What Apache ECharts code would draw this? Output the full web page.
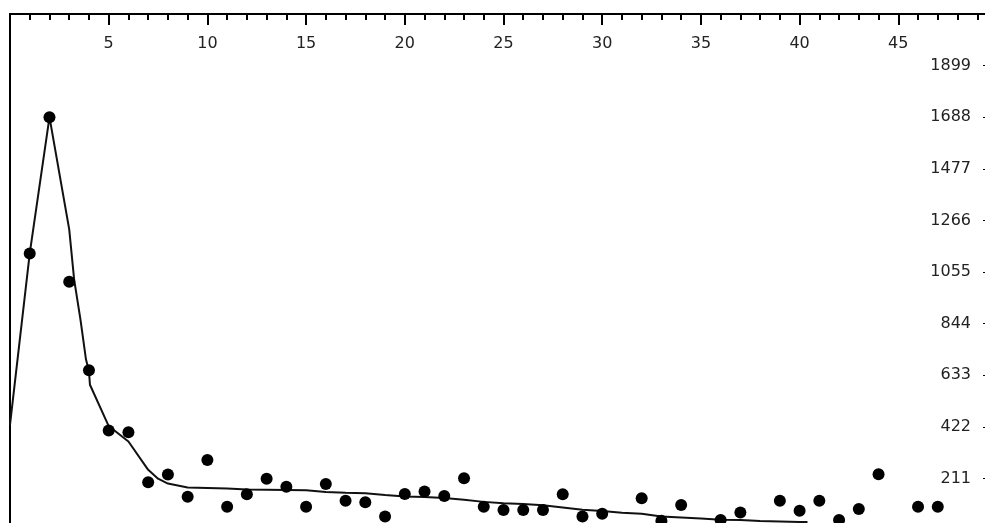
<!DOCTYPE html>
<html>
<head>
<meta charset="utf-8">
<script src="https://cdn.jsdelivr.net/npm/echarts@6/dist/echarts.min.js"></script>
<style>
html,body{margin:0;padding:0;background:#fff;}
#chart{width:985px;height:523px;}
</style>
</head>
<body>
<div id="chart"></div>
<script>
// Observed points (x index, value)
var pointX = [1, 2, 3, 4, 5, 6, 7, 8, 9, 10, 11, 12, 13, 14, 15, 16, 17, 18, 19, 20, 21, 22, 23, 24, 25, 26, 27, 28, 29, 30, 32, 33, 34, 36, 37, 39, 40, 41, 42, 43, 44, 46, 47];
var pointY = [1131, 1688, 1015, 653, 407, 400, 195, 227, 136, 286, 95, 146, 210, 177, 95, 188, 120, 113, 55, 147, 157, 139, 212, 95, 82, 82, 82, 146, 55, 66, 130, 38, 102, 41, 72, 120, 79, 120, 41, 86, 228, 95, 95];

// Fitted curve
var curveX = [0, 1, 2, 3, 3.25, 3.57, 3.85, 4, 4.05, 5, 6, 7, 7.5, 8, 9, 10, 11, 12, 13, 14, 15, 16, 17, 18, 19, 20, 21, 22, 23, 24, 25, 26, 27, 28, 29, 30, 31, 32, 33, 34, 35, 36, 37, 38, 39, 40, 40.4];
var curveY = [430, 1131, 1688, 1229, 1024, 860, 697, 650, 594, 425, 362, 246, 210, 190, 174, 172, 170, 166, 165, 164, 163, 155, 152, 150, 143, 137, 135, 131, 124, 115, 109, 106, 101, 92, 83, 78, 71, 66, 55, 51, 47, 42, 41, 37, 35, 33, 33];

// Axis settings
var xMin = 0, xMax = 50, xStep = 5;
var yMin = 0, yMax = 2110, yStep = 211;

var points = pointX.map(function (x, i) { return [x, pointY[i]]; });
var curve = curveX.map(function (x, i) { return [x, curveY[i]]; });

var chart = echarts.init(document.getElementById('chart'), null, {renderer: 'canvas'});
var labelFont = {fontFamily: 'DejaVu Sans', fontSize: 16, color: '#222', formatter: function (v) { return String(v); }};
chart.setOption({
  animation: false,
  backgroundColor: '#ffffff',
  grid: {left: 10, top: 14, width: 987, height: 516, outerBoundsMode: 'none', containLabel: false,
         show: true, borderColor: '#000', borderWidth: 2, backgroundColor: 'transparent'},
  xAxis: {
    type: 'value', position: 'top', min: xMin, max: xMax, interval: xStep,
    axisLine: {show: true, onZero: false, lineStyle: {color: '#000', width: 2}},
    axisTick: {show: true, inside: true, length: 11, lineStyle: {color: '#000', width: 2}},
    minorTick: {show: true, splitNumber: 5, length: 6, lineStyle: {color: '#000', width: 2}},
    axisLabel: Object.assign({inside: true, margin: 22, showMinLabel: false, showMaxLabel: false}, labelFont),
    splitLine: {show: false}
  },
  yAxis: {
    type: 'value', position: 'right', min: yMin, max: yMax, interval: yStep,
    axisLine: {show: false, onZero: false},
    axisTick: {show: true, inside: true, length: 14, lineStyle: {color: '#000', width: 1}},
    axisLabel: Object.assign({inside: true, margin: 26, showMinLabel: false, showMaxLabel: false}, labelFont),
    splitLine: {show: false}
  },
  series: [
    {
      type: 'line', data: curve, symbol: 'none', smooth: false,
      lineStyle: {color: '#111', width: 2}, z: 2
    },
    {
      type: 'scatter', data: points, symbol: 'circle', symbolSize: 12,
      itemStyle: {color: '#000', opacity: 1}, z: 3
    }
  ]
});
</script>
</body>
</html>
